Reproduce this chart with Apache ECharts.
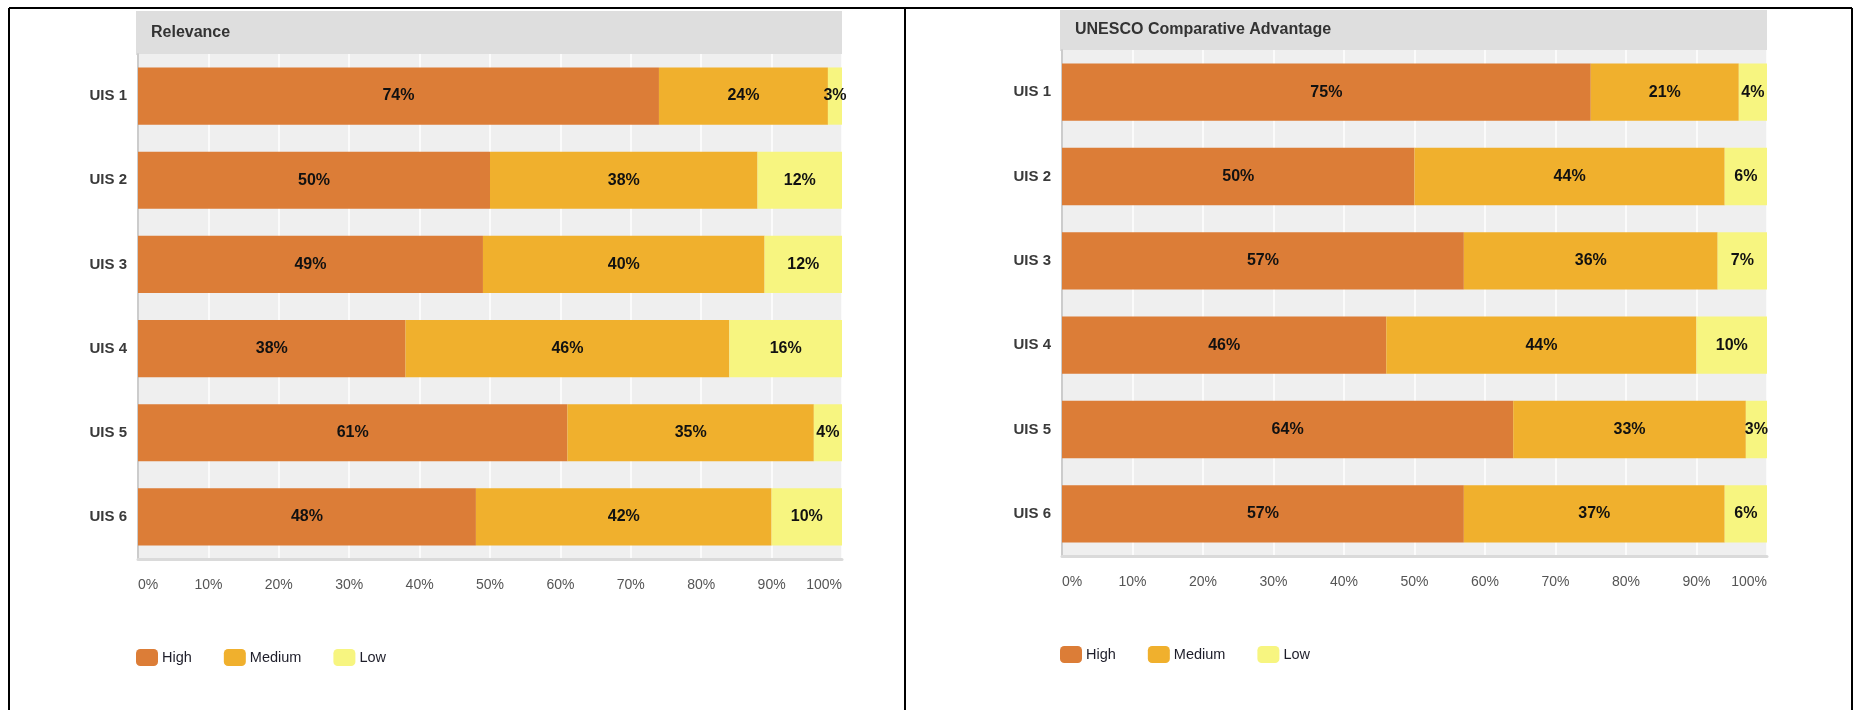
<!DOCTYPE html>
<html>
<head>
<meta charset="utf-8">
<title>Relevance and UNESCO Comparative Advantage</title>
<script src="https://cdn.jsdelivr.net/npm/echarts@6/dist/echarts.min.js"></script>
<style>
  html, body { margin: 0; padding: 0; background: #ffffff; }
  #chart { width: 1861px; height: 710px; }
</style>
</head>
<body>
<div id="chart"></div>
<script>
// Survey items (rows of both panels)
const categories = ['UIS 1', 'UIS 2', 'UIS 3', 'UIS 4', 'UIS 5', 'UIS 6'];

// Relevance ratings, in percent
const relevanceHigh   = [74, 50, 49, 38, 61, 48];
const relevanceMedium = [24, 38, 40, 46, 35, 42];
const relevanceLow    = [3, 12, 12, 16, 4, 10];

// UNESCO comparative advantage ratings, in percent
const advantageHigh   = [75, 50, 57, 46, 64, 57];
const advantageMedium = [21, 44, 36, 44, 33, 37];
const advantageLow    = [4, 6, 7, 10, 3, 6];

const levelNames = ['High', 'Medium', 'Low'];
const panelTitles = ['Relevance', 'UNESCO Comparative Advantage'];

const levelColors = ['#dc7d37', '#f0b02d', '#f7f580'];
const FONT = '"Liberation Sans", Arial, sans-serif';

const chart = echarts.init(document.getElementById('chart'), null, { renderer: 'canvas' });

// Panel geometry: plot rectangles and header bands
const panels = [
  { left: 138, top: 54, width: 704, height: 505, bandX: 136, bandY: 11, bandH: 44, titleX: 151, titleY: 25, legendX: 136, legendY: 649 },
  { left: 1062, top: 50, width: 705, height: 506, bandX: 1060, bandY: 10, bandH: 41, titleX: 1075, titleY: 22, legendX: 1060, legendY: 646 }
];

const seriesData = [
  [relevanceHigh, relevanceMedium, relevanceLow],
  [advantageHigh, advantageMedium, advantageLow]
];

const grids = [], xAxes = [], yAxes = [], series = [], titles = [], legends = [], graphics = [];

panels.forEach((p, i) => {
  grids.push({
    left: p.left, top: p.top, width: p.width, height: p.height,
    show: true, backgroundColor: '#efefef', borderWidth: 0
  });
  xAxes.push({
    gridIndex: i, type: 'value', min: 0, max: 100, interval: 10,
    axisLine: { show: true, onZero: false, lineStyle: { color: '#dadada', width: 3 } },
    axisTick: { show: false },
    splitLine: { show: true, lineStyle: { color: '#ffffff', width: 1.5 } },
    axisLabel: {
      formatter: '{value}%', color: '#555', fontSize: 14, fontFamily: FONT, margin: 19,
      alignMinLabel: 'left', alignMaxLabel: 'right'
    }
  });
  yAxes.push({
    gridIndex: i, type: 'category', data: categories, inverse: true,
    axisLine: { show: true, lineStyle: { color: '#cccccc', width: 2 } },
    axisTick: { show: false },
    splitLine: { show: false },
    axisLabel: { color: '#3a3a3a', fontSize: 15, fontWeight: 'bold', fontFamily: FONT, margin: 11 }
  });
  seriesData[i].forEach((values, k) => {
    series.push({
      type: 'bar', name: levelNames[k], stack: 'panel' + i,
      xAxisIndex: i, yAxisIndex: i, data: values,
      barCategoryGap: '32%',
      clip: true,
      itemStyle: { color: levelColors[k] },
      label: {
        show: true, position: 'inside', formatter: '{c}%',
        color: '#111', fontSize: 16, fontWeight: 'bold', fontFamily: FONT
      },
      emphasis: { disabled: true }
    });
  });
  titles.push({
    text: panelTitles[i], left: p.titleX, top: p.titleY, padding: 0,
    textStyle: { color: '#333', fontSize: 16, fontWeight: 'bold', fontFamily: FONT }
  });
  legends.push({
    data: levelNames, left: p.legendX, top: p.legendY, orient: 'horizontal',
    icon: 'roundRect', itemWidth: 22, itemHeight: 17, itemGap: 32, padding: 0,
    textStyle: { color: '#1e1e2a', fontSize: 14.5, fontFamily: FONT, padding: [-3, 0, 0, -1] },
    selectedMode: false
  });
  graphics.push({
    type: 'rect', z: -1,
    shape: { x: p.bandX, y: p.bandY, width: p.width + 2, height: p.bandH },
    style: { fill: '#dedede' }
  });
});

// Outer frame and divider between the two panels
const frameStyle = { stroke: '#000', lineWidth: 2 };
graphics.push(
  { type: 'line', shape: { x1: 9, y1: 8, x2: 1852, y2: 8 }, style: frameStyle },
  { type: 'line', shape: { x1: 9, y1: 8, x2: 9, y2: 710 }, style: frameStyle },
  { type: 'line', shape: { x1: 905, y1: 8, x2: 905, y2: 710 }, style: frameStyle },
  { type: 'line', shape: { x1: 1852, y1: 8, x2: 1852, y2: 710 }, style: frameStyle }
);

chart.setOption({
  animation: false,
  backgroundColor: '#ffffff',
  title: titles,
  legend: legends,
  grid: grids,
  xAxis: xAxes,
  yAxis: yAxes,
  series: series,
  graphic: graphics
});
</script>
</body>
</html>
